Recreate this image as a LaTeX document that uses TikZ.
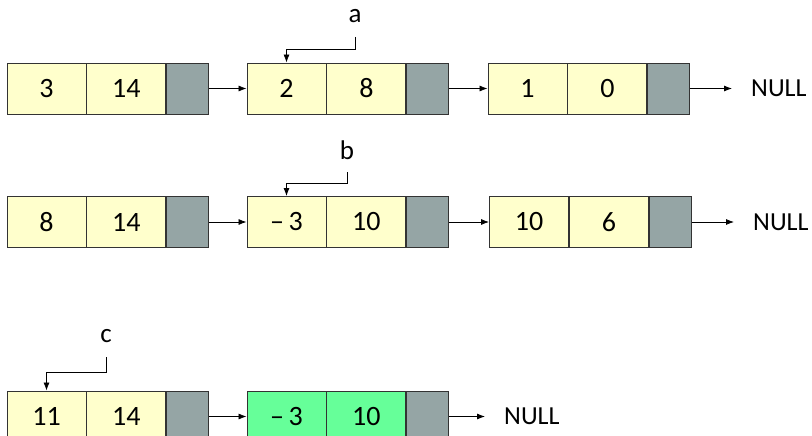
\documentclass[tikz,border=0pt]{standalone}
\usepackage{fontspec}
\setmainfont{Carlito}
\usetikzlibrary{arrows.meta,positioning}
\definecolor{termfill}{HTML}{FFFFCC}
\definecolor{newfill}{HTML}{66FF99}
\definecolor{linkfill}{HTML}{95A5A5}
\tikzset{
    cell/.style={draw=black!80, line width=0.9pt, minimum height=51pt, minimum width=79pt, inner sep=0pt, font=\fontsize{28}{32}\selectfont},
    term/.style={cell, fill=termfill},
    newterm/.style={cell, fill=newfill},
    link/.style={cell, fill=linkfill, minimum width=42pt},
    ptr/.style={font=\fontsize{27}{31}\selectfont, inner sep=0pt, anchor=south},
    null/.style={font=\fontsize{26}{30}\selectfont, inner xsep=19pt, inner ysep=0pt, anchor=west},
    nxt/.style={-{Latex[length=8pt,width=6pt]}, line width=0.8pt},
}

\begin{document}
\begin{tikzpicture}[x=1pt, y=-1pt]
    \useasboundingbox (0,0) rectangle (812,436);
    % list a
    \node[term] (c11) at (46.5, 88.5) {3};
    \node[term, right=0pt of c11] (e11) {14};
    \node[link, right=0pt of e11] (l11) {};
    \node[term] (c12) at (286.5, 88.5) {2};
    \node[term, right=0pt of c12] (e12) {8};
    \node[link, right=0pt of e12] (l12) {};
    \node[term] (c13) at (527.5, 88.5) {1};
    \node[term, right=0pt of c13] (e13) {0};
    \node[link, right=0pt of e13] (l13) {};
    \node[null] (n1) at (732, 88.5) {NULL};
    \node[ptr] (pa) at (355, 23) {a};
    % list b
    \node[term] (c21) at (46.5, 222) {8};
    \node[term, right=0pt of c21] (e21) {14};
    \node[link, right=0pt of e21] (l21) {};
    \node[term] (c22) at (286.5, 222) {–\,3};
    \node[term, right=0pt of c22] (e22) {10};
    \node[link, right=0pt of e22] (l22) {};
    \node[term] (c23) at (529, 222) {10};
    \node[term, right=0pt of c23] (e23) {6};
    \node[link, right=0pt of e23] (l23) {};
    \node[null] (n2) at (734, 222) {NULL};
    \node[ptr] (pb) at (347, 160) {b};
    % list c
    \node[term] (c31) at (46.5, 416.5) {11};
    \node[term, right=0pt of c31] (e31) {14};
    \node[link, right=0pt of e31] (l31) {};
    \node[newterm] (c32) at (286.5, 416.5) {–\,3};
    \node[newterm, right=0pt of c32] (e32) {10};
    \node[link, right=0pt of e32] (l32) {};
    \node[null] (n3) at (485, 416.5) {NULL};
    \node[ptr] (pc) at (106, 343) {c};
    % links
    \draw[nxt] (l11.east) -- (c12.west);
    \draw[nxt] (l12.east) -- (c13.west);
    \draw[nxt] (l13.east) -- (n1.west);
    \draw[nxt] (l21.east) -- (c22.west);
    \draw[nxt] (l22.east) -- (c23.west);
    \draw[nxt] (l23.east) -- (n2.west);
    \draw[nxt] (l31.east) -- (c32.west);
    \draw[nxt] (l32.east) -- (n3.west);
    % pointers
    \draw[nxt, shorten <=14pt] (pa.south) |- ([yshift=13pt]c12.north) -- (c12.north);
    \draw[nxt, shorten <=12pt] (pb.south) |- ([yshift=13pt]c22.north) -- (c22.north);
    \draw[nxt, shorten <=14pt] (pc.south) |- ([yshift=18pt]c31.north) -- (c31.north);
\end{tikzpicture}
\end{document}
